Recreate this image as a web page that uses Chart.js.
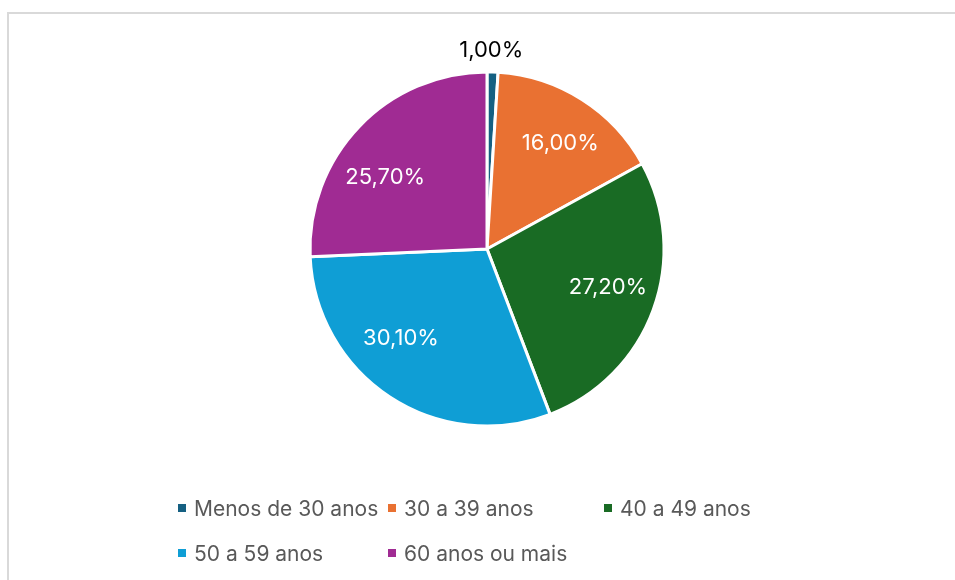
<!DOCTYPE html>
<html>
<head>
<meta charset="utf-8">
<script src="https://cdn.jsdelivr.net/npm/chart.js@4.4.1/dist/chart.umd.min.js"></script>
<style>
  html, body { margin: 0; padding: 0; background: #fff; }
  #wrap { position: relative; width: 955px; height: 580px; overflow: hidden; }
  #frame { position: absolute; left: 7px; top: 12px; width: 960px; height: 600px;
           border-left: 2px solid #d9d9d9; border-top: 2px solid #d9d9d9; box-sizing: border-box; }
  #pieChart { position: absolute; left: 0; top: 0; }
  #legend { position: absolute; left: 178px; top: 493px; display: grid;
            grid-template-columns: 210px 216px auto; row-gap: 15px;
            font-family: Inter, "Noto Sans", sans-serif; font-size: 21px; color: #595959; }
  .item { display: flex; align-items: center; height: 30px; white-space: nowrap; }
  .box { width: 8px; height: 8px; margin-right: 8px; flex-shrink: 0; }
</style>
</head>
<body>
<div id="wrap">
  <div id="frame"></div>
  <canvas id="pieChart" width="955" height="580"></canvas>
  <div id="legend"></div>
</div>
<script>
// Faixas etarias e percentuais
const labels = ['Menos de 30 anos', '30 a 39 anos', '40 a 49 anos', '50 a 59 anos', '60 anos ou mais'];
const values = [1.0, 16.0, 27.2, 30.1, 25.7];
const colors = ['#156082', '#E97132', '#196B24', '#0F9ED5', '#A02B93'];

// Small pixel nudges so labels sit where Excel put them
const labelNudge = [[-2, 0], [6, 0], [3, -5], [-17, -16], [-11, 15]];

// Format percent like "16,00%"
function formatPct(v) {
  return v.toFixed(2).replace('.', ',') + '%';
}

// Draw the percent labels: inside for big slices, outside for tiny ones
const pieLabels = {
  id: 'pieLabels',
  afterDatasetsDraw(chart) {
    const ctx = chart.ctx;
    const meta = chart.getDatasetMeta(0);
    ctx.save();
    ctx.font = '22px Inter, "Noto Sans", sans-serif';
    ctx.textAlign = 'center';
    ctx.textBaseline = 'middle';
    meta.data.forEach((arc, i) => {
      const p = arc.getProps(['x', 'y', 'startAngle', 'endAngle', 'outerRadius'], true);
      const mid = (p.startAngle + p.endAngle) / 2;
      const small = values[i] < 5;
      const r = small ? p.outerRadius + 22 : p.outerRadius * 0.71;
      ctx.fillStyle = small ? '#000000' : '#ffffff';
      ctx.fillText(formatPct(values[i]),
        p.x + Math.cos(mid) * r + labelNudge[i][0],
        p.y + Math.sin(mid) * r + labelNudge[i][1]);
    });
    ctx.restore();
  }
};

const ctx = document.getElementById('pieChart').getContext('2d');
new Chart(ctx, {
  type: 'pie',
  data: {
    labels: labels,
    datasets: [{
      data: values,
      backgroundColor: colors,
      borderColor: '#ffffff',
      borderWidth: 3
    }]
  },
  options: {
    responsive: false,
    animation: false,
    layout: { padding: { left: 308.5, right: 289.5, top: 70.5, bottom: 152.5 } },
    plugins: {
      legend: { display: false },
      tooltip: { enabled: false }
    }
  },
  plugins: [pieLabels]
});

// Legend built from the same arrays
const legendEl = document.getElementById('legend');
labels.forEach((lab, i) => {
  const item = document.createElement('div');
  item.className = 'item';
  item.innerHTML = `<span class="box" style="background:${colors[i]}"></span><span>${lab}</span>`;
  legendEl.appendChild(item);
});
</script>
</body>
</html>
